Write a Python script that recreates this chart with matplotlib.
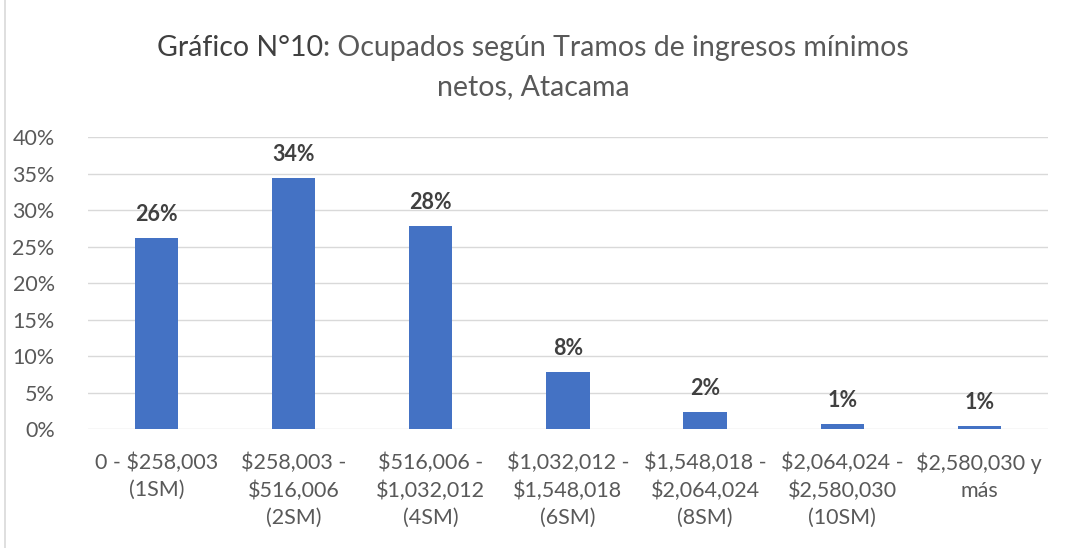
import matplotlib.pyplot as plt
import numpy as np
from matplotlib.patches import Rectangle

categorias = ['0 - $258,003\n(1SM)', '$258,003 -\n$516,006\n(2SM)', '$516,006 -\n$1,032,012\n(4SM)',
              '$1,032,012 -\n$1,548,018\n(6SM)', '$1,548,018 -\n$2,064,024\n(8SM)',
              '$2,064,024 -\n$2,580,030\n(10SM)', '$2,580,030 y\nmás']
valores = [26.2, 34.4, 27.8, 7.8, 2.4, 0.7, 0.45]
etiquetas = ['26%', '34%', '28%', '8%', '2%', '1%', '1%']
yticks = [0, 5, 10, 15, 20, 25, 30, 35, 40]

plt.rcParams['font.family'] = ['Lato', 'DejaVu Sans']
gris = '#595959'

fig = plt.figure(figsize=(10.66, 5.48), dpi=100)
ax = fig.add_axes([0.0826, 0.217, 0.9004, 0.533])

x = np.arange(len(categorias))
ax.bar(x, valores, width=0.315, color='#4472C4', zorder=3)
for xi, v, lab in zip(x, valores, etiquetas):
    ax.text(xi, v + 1.75, lab, ha='center', va='bottom', fontsize=15.5,
            fontweight='bold', color='#404040')

ax.set_ylim(0, 40)
ax.set_xlim(-0.5, len(categorias) - 0.5)
ax.set_yticks(yticks)
ax.set_yticklabels([f'{t}%' for t in yticks])
ax.set_xticks(x)
ax.set_xticklabels(categorias, fontsize=15.5, color=gris, linespacing=1.45)
ax.tick_params(axis='y', labelsize=15.5, colors=gris, length=0, pad=24)
ax.tick_params(axis='x', length=0, pad=17)
ax.grid(axis='y', color='#D9D9D9', linewidth=1, zorder=0)
for s in ax.spines.values():
    s.set_visible(False)

# titulo en dos estilos
t1 = fig.text(0, 0.913, 'Gráfico N°10', fontsize=20.5, color='#404040', ha='left', va='center')
t2 = fig.text(0, 0.913, ': Ocupados según Tramos de ingresos mínimos', fontsize=20.5,
              color=gris, ha='left', va='center')
fig.text(0.5, 0.842, 'netos, Atacama', fontsize=20.5, color=gris, ha='center', va='center')
fig.canvas.draw()
r = fig.canvas.get_renderer()
w1 = t1.get_window_extent(r).width / fig.bbox.width
w2 = t2.get_window_extent(r).width / fig.bbox.width
x0 = 0.5 - (w1 + w2) / 2
t1.set_x(x0)
t2.set_x(x0 + w1)

fig.patches.append(Rectangle((0.005, -0.01), 1.1, 1.1, transform=fig.transFigure,
                             fill=False, edgecolor='#D9D9D9', linewidth=1.2))

fig.savefig('out.png', dpi=100)
